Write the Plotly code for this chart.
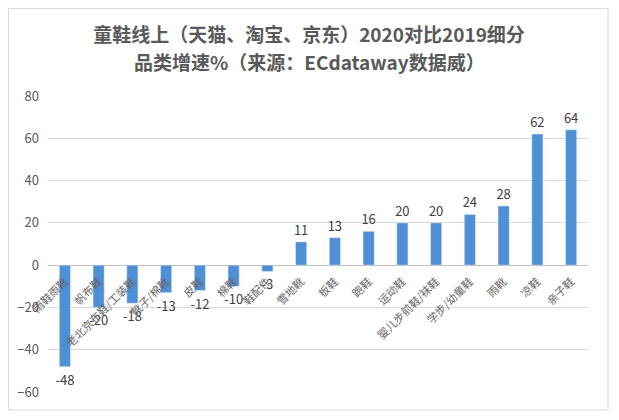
import plotly.graph_objects as go

categories = ["雨鞋雨靴", "帆布鞋", "老北京布鞋/工装鞋", "靴子/棉靴", "皮鞋", "棉鞋", "鞋配件",
              "雪地靴", "板鞋", "跑鞋", "运动鞋", "婴儿步前鞋/袜鞋", "学步/幼童鞋", "雨靴", "凉鞋", "亲子鞋"]
values = [-48, -20, -18, -13, -12, -10, -3, 11, 13, 16, 20, 20, 24, 28, 62, 64]
y_ticks = [-60, -40, -20, 0, 20, 40, 60, 80]
title_line1 = "童鞋线上（天猫、淘宝、京东）2020对比2019细分"
title_line2 = "品类增速%（来源：ECdataway数据威）"

FONT = "Noto Sans CJK SC"
ymin, ymax = -60, 80
# page has an 8px body margin, so the figure is sized to fit the window
W, H = 611, 412
L, R, T, B = 40, 31, 88, 28
pw, ph = W - L - R, H - T - B

fig = go.Figure()
fig.add_trace(go.Bar(
    x=categories, y=values,
    marker=dict(color="#4f8fd6"),
    width=0.33,
    text=[str(v) for v in values],
    textposition="outside",
    constraintext="none",
    textfont=dict(family=FONT, size=13, color="#404040"),
    cliponaxis=False,
))

fig.update_layout(
    width=W, height=H,
    paper_bgcolor="white", plot_bgcolor="white",
    margin=dict(l=L, r=R, t=T, b=B, autoexpand=False),
    showlegend=False,
    title=dict(
        text="<b>" + title_line1 + "</b>",
        x=301 / W, xanchor="center", y=1 - 27 / H, yanchor="middle",
        font=dict(family=FONT, size=19, color="#595959"),
    ),
    annotations=[dict(
        text="<b>" + title_line2 + "</b>", showarrow=False,
        xref="paper", yref="paper",
        x=(301 - L) / pw, xanchor="center",
        y=1 + (T - 53) / ph, yanchor="middle",
        font=dict(family=FONT, size=19, color="#595959"),
    )],
    xaxis=dict(
        anchor="free", position=(0 - ymin) / (ymax - ymin), automargin=False,
        tickangle=-45, showline=False, showgrid=False, ticks="",
        ticklabelstandoff=7,
        tickfont=dict(family=FONT, size=11, color="#666666"),
    ),
    yaxis=dict(
        range=[ymin, ymax], tickvals=y_ticks, automargin=False,
        showgrid=True, gridcolor="#d9d9d9", gridwidth=1,
        zeroline=True, zerolinecolor="#bfbfbf", zerolinewidth=1,
        ticklabelstandoff=8,
        tickfont=dict(family=FONT, size=13, color="#595959"),
    ),
    shapes=[dict(type="rect", xref="paper", yref="paper",
                 x0=(0.5 - L) / pw, x1=(600 - L) / pw,
                 y0=(H - 402 - B) / ph, y1=(H - 0.5 - B) / ph,
                 line=dict(color="#d9d9d9", width=1))],
)

fig.write_html("out.html")
